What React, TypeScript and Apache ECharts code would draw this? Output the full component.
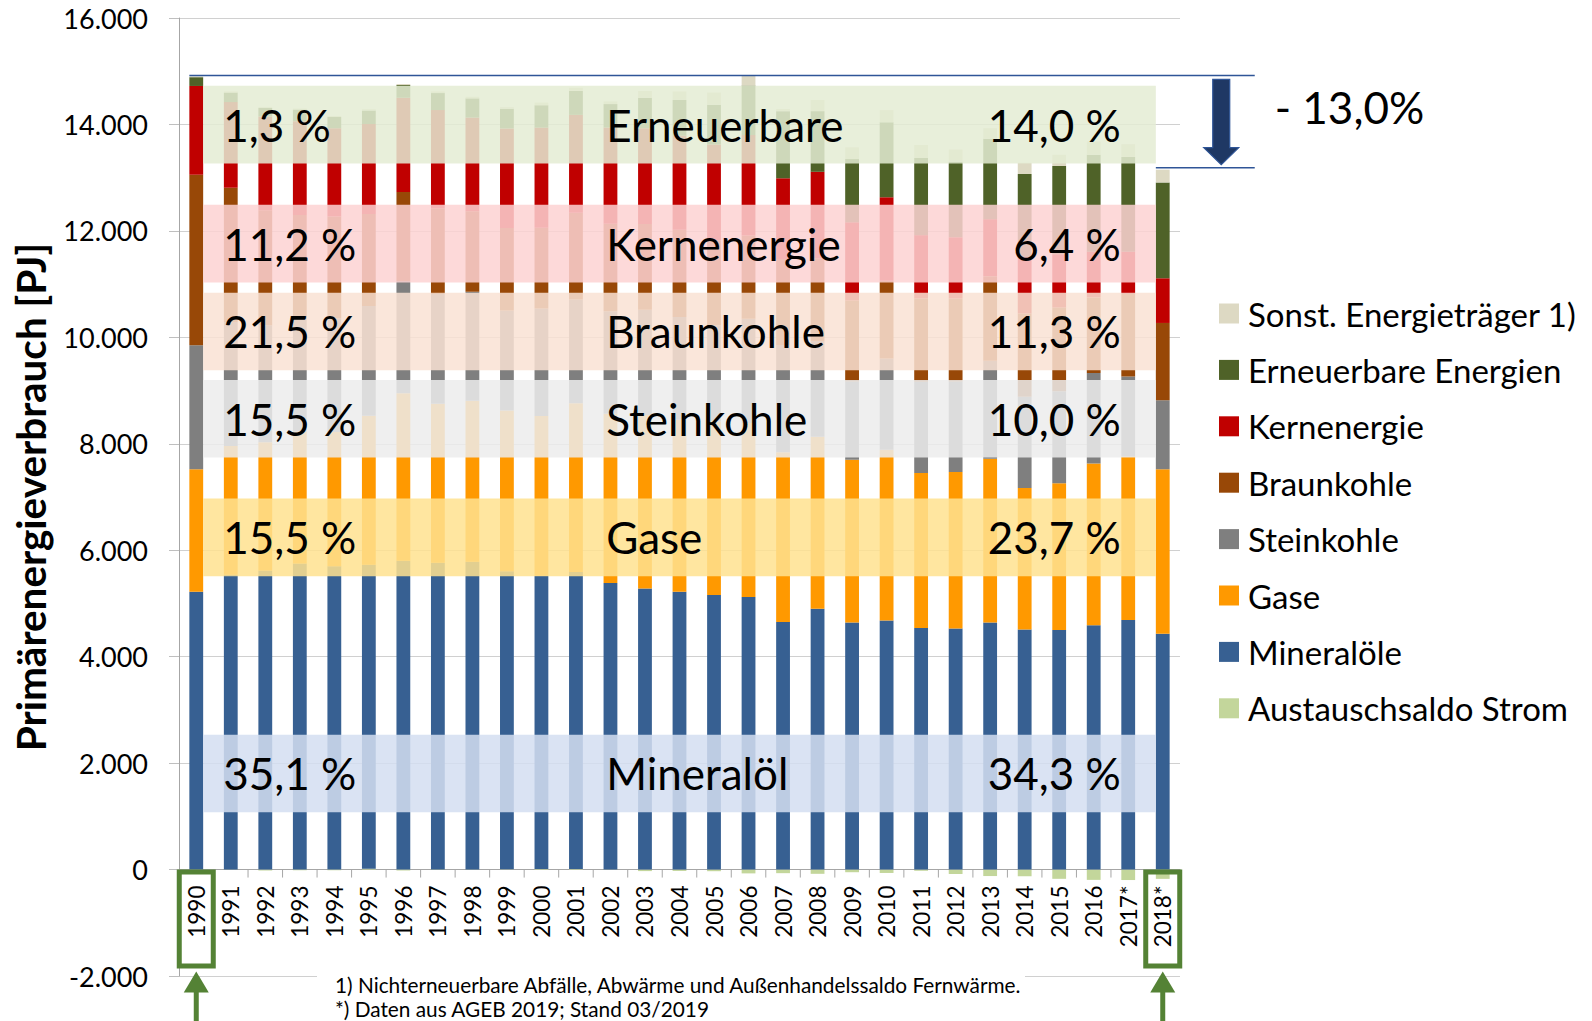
import React, { useEffect, useRef } from 'react';
import * as echarts from 'echarts';

const FONT = 'Lato, Carlito, Calibri, sans-serif';

const years = ['1990','1991','1992','1993','1994','1995','1996','1997','1998','1999','2000','2001','2002','2003','2004','2005','2006','2007','2008','2009','2010','2011','2012','2013','2014','2015','2016','2017*','2018*'];

const austausch = [3, -3, -18, -11, -12, 17, -19, -8, -4, 5, 11, 10, 3, -29, -26, -31, -72, -68, -80, -50, -64, -23, -83, -122, -127, -174, -194, -197, -175];
const mineraloele = [5217, 5540, 5620, 5750, 5700, 5710, 5800, 5765, 5785, 5600, 5510, 5580, 5380, 5280, 5220, 5160, 5120, 4650, 4900, 4640, 4680, 4540, 4530, 4640, 4510, 4500, 4590, 4690, 4430];
const gase = [2300, 2420, 2410, 2480, 2520, 2800, 3150, 2985, 3025, 3020, 3000, 3170, 3180, 3260, 3230, 3260, 3270, 3190, 3230, 3060, 3210, 2910, 2940, 3080, 2660, 2760, 3040, 3070, 3090];
const steinkohle = [2330, 2330, 2196, 2140, 2140, 2060, 2110, 2065, 2045, 1880, 2021, 1949, 1927, 1980, 1930, 1808, 1958, 2018, 1800, 1470, 1714, 1715, 1700, 1840, 1714, 1729, 1700, 1505, 1300];
const braunkohle = [3203, 2520, 2164, 1930, 1910, 1730, 1670, 1605, 1515, 1550, 1519, 1631, 1643, 1610, 1640, 1596, 1567, 1614, 1554, 1520, 1460, 1565, 1560, 1590, 1566, 1571, 1420, 1550, 1450];
const kernenergie = [1670, 1610, 1760, 1760, 1660, 1690, 1770, 1850, 1760, 1870, 1880, 1840, 1810, 1800, 1770, 1800, 1885, 1518, 1626, 1470, 1570, 1190, 1150, 1070, 1058, 1001, 860, 795, 840];
const erneuerbare = [165, 180, 160, 220, 210, 255, 240, 320, 360, 370, 420, 450, 440, 570, 670, 746, 930, 1260, 1140, 1190, 1406, 1450, 1420, 1510, 1562, 1659, 1820, 1780, 1800];
const sonstige = [15, 20, 20, 20, 20, 25, 20, 30, 30, 30, 50, 60, 50, 130, 160, 230, 180, 40, 210, 220, 230, 245, 230, 200, 210, 210, 250, 240, 240];

const seriesNames = ['Austauschsaldo Strom', 'Mineralöle', 'Gase', 'Steinkohle', 'Braunkohle', 'Kernenergie', 'Erneuerbare Energien', 'Sonst. Energieträger 1)'];
const seriesData = [austausch, mineraloele, gase, steinkohle, braunkohle, kernenergie, erneuerbare, sonstige];
const seriesColors = ['#c3d69b', '#376092', '#ff9900', '#7f7f7f', '#984807', '#c00000', '#4f6228', '#ddd9c3'];
const legendOrder = ['Sonst. Energieträger 1)', 'Erneuerbare Energien', 'Kernenergie', 'Braunkohle', 'Steinkohle', 'Gase', 'Mineralöle', 'Austauschsaldo Strom'];

// overlay bands (value ranges in PJ) with labels
const bandNames = ['Erneuerbare', 'Kernenergie', 'Braunkohle', 'Steinkohle', 'Gase', 'Mineralöl'];
const bandLo = [13265, 11030, 9380, 7740, 5510, 1075];
const bandHi = [14725, 12490, 10840, 9200, 6970, 2535];
const share1990 = ['1,3 %', '11,2 %', '21,5 %', '15,5 %', '15,5 %', '35,1 %'];
const share2018 = ['14,0 %', '6,4 %', '11,3 %', '10,0 %', '23,7 %', '34,3 %'];
const bandColors = ['rgba(228,236,212,0.855)', 'rgba(253,211,211,0.855)', 'rgba(249,226,212,0.855)', 'rgba(236,236,236,0.855)', 'rgba(255,226,144,0.855)', 'rgba(212,222,241,0.855)'];

const changeLabel = '- 13,0%';
const footnotes = ['1) Nichterneuerbare Abfälle, Abwärme und Außenhandelssaldo Fernwärme.', '*) Daten aus AGEB 2019; Stand 03/2019'];

const fmt = (v: number) => {
  if (v === 0) return '0';
  const s = Math.abs(v).toString().replace(/\B(?=(\d{3})+(?!\d))/g, '.');
  return (v < 0 ? '-' : '') + s;
};

const positiveTotal = (i: number) => seriesData.reduce((acc, arr) => acc + (arr[i] > 0 ? arr[i] : 0), 0);

export default function App() {
  const ref = useRef<HTMLDivElement>(null);
  useEffect(() => {
    const chart = echarts.init(ref.current as HTMLDivElement, null, { renderer: 'svg' });
    const last = years.length - 1;

    const barSeries = seriesNames.map((name, k) => ({
      type: 'bar',
      name,
      data: seriesData[k],
      stack: 'total',
      barWidth: '40%',
      itemStyle: { color: seriesColors[k] },
      emphasis: { disabled: true },
      z: 2,
    }));

    const bandSeries = {
      type: 'custom',
      name: 'bands',
      silent: true,
      z: 10,
      data: bandLo.map((lo, i) => [0, lo, bandHi[i]]),
      encode: { x: 0, y: [1, 2] },
      renderItem: (params: any, api: any) => {
        const i = params.dataIndex;
        const pLo = api.coord([0, bandLo[i]]);
        const pHi = api.coord([last, bandHi[i]]);
        const bw = api.size([1, 0])[0] * 0.4;
        const x0 = pLo[0] + bw / 2;
        const x1 = pHi[0] - bw / 2;
        const yTop = pHi[1];
        const yBot = pLo[1];
        const yMid = (yTop + yBot) / 2;
        const ts = { fontSize: 44, fontFamily: FONT, fill: '#000', verticalAlign: 'middle' };
        return {
          type: 'group',
          children: [
            { type: 'rect', shape: { x: x0, y: yTop, width: x1 - x0, height: yBot - yTop }, style: { fill: bandColors[i] } },
            { type: 'text', x: x0 + 20, y: yMid, style: { ...ts, text: share1990[i], align: 'left' } },
            { type: 'text', x: x0 + 403, y: yMid, style: { ...ts, text: bandNames[i], align: 'left' } },
            { type: 'text', x: x1 - 35, y: yMid, style: { ...ts, text: share2018[i], align: 'right' } },
          ],
        };
      },
    };

    const annoSeries = {
      type: 'custom',
      name: 'annotations',
      silent: true,
      z: 12,
      data: [[0, 0]],
      encode: { x: 0, y: 1 },
      renderItem: (params: any, api: any) => {
        const cw = api.size([1, 0])[0];
        const bw = cw * 0.4;
        const c0 = api.coord([0, 0]);
        const cL = api.coord([last, 0]);
        const zeroY = c0[1];
        const topY = api.coord([0, positiveTotal(0)])[1] - 1;
        const botY = api.coord([last, positiveTotal(last)])[1] - 2;
        const rightX = cL[0] + 92;
        const ax = cL[0] + 58.5;
        const green = '#548235';
        const children: any[] = [];
        // category labels and ticks along the zero line
        years.forEach((y, i) => {
          const c = api.coord([i, 0]);
          children.push({ type: 'line', shape: { x1: c[0] - cw / 2, y1: zeroY, x2: c[0] - cw / 2, y2: zeroY + 8 }, style: { stroke: '#a6a6a6', lineWidth: 1 } });
          children.push({ type: 'text', x: c[0], y: zeroY + 16, rotation: Math.PI / 2, style: { text: y, fontSize: 22.5, fontFamily: FONT, fill: '#000', align: 'right', verticalAlign: 'middle' } });
        });
        children.push({ type: 'line', shape: { x1: cL[0] + cw / 2, y1: zeroY, x2: cL[0] + cw / 2, y2: zeroY + 8 }, style: { stroke: '#a6a6a6', lineWidth: 1 } });
        children.push(
          { type: 'line', shape: { x1: c0[0] - bw / 2, y1: topY, x2: rightX, y2: topY }, style: { stroke: '#2f5597', lineWidth: 1.5 } },
          { type: 'line', shape: { x1: cL[0] - bw / 2, y1: botY, x2: rightX, y2: botY }, style: { stroke: '#2f5597', lineWidth: 1.5 } },
          {
            type: 'polygon',
            shape: {
              points: [
                [ax - 8.5, topY + 4], [ax + 8.5, topY + 4], [ax + 8.5, botY - 20],
                [ax + 17.5, botY - 20], [ax, botY - 3], [ax - 17.5, botY - 20], [ax - 8.5, botY - 20],
              ],
            },
            style: { fill: '#1f3864', stroke: '#2f5597', lineWidth: 1.2 },
          },
          { type: 'text', x: cL[0] + 112, y: topY + 32, style: { text: changeLabel, fontSize: 44, fontFamily: FONT, fill: '#000', verticalAlign: 'middle', align: 'left' } },
        );
        [c0[0], cL[0]].forEach((cx) => {
          children.push({ type: 'rect', shape: { x: cx - 17, y: zeroY + 2.5, width: 34, height: 94 }, style: { fill: 'none', stroke: green, lineWidth: 5 } });
          const tip = zeroY + 102;
          children.push({ type: 'rect', shape: { x: cx - 2.5, y: tip + 18, width: 5, height: 80 }, style: { fill: green } });
          children.push({ type: 'polygon', shape: { points: [[cx, tip], [cx - 12.5, tip + 21], [cx + 12.5, tip + 21]] }, style: { fill: green } });
        });
        return { type: 'group', children };
      },
    };

    chart.setOption({
      animation: false,
      backgroundColor: '#fff',
      textStyle: { fontFamily: FONT },
      grid: { left: 179, right: 412, top: 18, bottom: 45, containLabel: false, outerBoundsMode: 'none' },
      legend: {
        orient: 'vertical',
        left: 1214,
        top: 292,
        itemWidth: 20,
        itemHeight: 20,
        itemGap: 23.4,
        icon: 'rect',
        selectedMode: false,
        data: legendOrder,
        textStyle: { fontSize: 33, fontFamily: FONT, color: '#000', padding: [0, 0, 0, 4] },
      },
      xAxis: {
        type: 'category',
        data: years,
        axisLine: { onZero: true, lineStyle: { color: '#a6a6a6', width: 1 } },
        axisTick: { show: false },
        axisLabel: { show: false },
        splitLine: { show: false },
      },
      yAxis: {
        type: 'value',
        min: -2000,
        max: 16000,
        interval: 2000,
        axisLine: { show: true, lineStyle: { color: '#a6a6a6' } },
        axisTick: { show: true, length: 10, lineStyle: { color: '#bfbfbf' } },
        splitLine: { show: true, lineStyle: { color: '#d0d0d0' } },
        axisLabel: { formatter: fmt, fontSize: 27, margin: 31, color: '#000', fontFamily: FONT },
        name: 'Primärenergieverbrauch [PJ]',
        nameLocation: 'middle',
        nameRotate: 90,
        nameGap: 128,
        nameTextStyle: { fontSize: 40.5, fontWeight: 'bold', color: '#000', fontFamily: FONT },
      },
      graphic: [
        { type: 'rect', z: 100, shape: { x: 317, y: 966, width: 708, height: 60 }, style: { fill: '#fff' } },
        { type: 'text', z: 101, x: 335, y: 984, style: { text: footnotes[0], fontSize: 20.8, fontFamily: FONT, fill: '#000', verticalAlign: 'middle' } },
        { type: 'text', z: 101, x: 335, y: 1008, style: { text: footnotes[1], fontSize: 20.8, fontFamily: FONT, fill: '#000', verticalAlign: 'middle' } },
      ],
      series: [...barSeries, bandSeries, annoSeries],
    });
    return () => chart.dispose();
  }, []);
  return <div ref={ref} style={{ position: 'fixed', left: 0, top: 0, width: 1592, height: 1021 }} />;
}
